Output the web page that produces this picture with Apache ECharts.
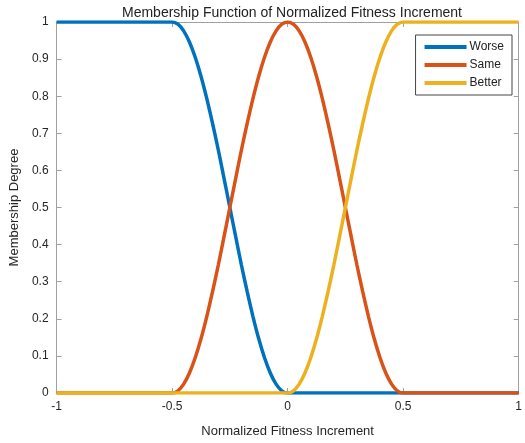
<!DOCTYPE html>
<html>
<head>
<meta charset="utf-8">
<script src="https://cdn.jsdelivr.net/npm/echarts@6/dist/echarts.min.js"></script>
<style>html,body{margin:0;padding:0;background:#fff;}#c{width:525px;height:443px;}</style>
</head>
<body>
<div id="c"></div>
<script>
var xValues = [-1, -0.5, -0.475, -0.45, -0.425, -0.4, -0.375, -0.35, -0.325, -0.3, -0.275, -0.25,
  -0.225, -0.2, -0.175, -0.15, -0.125, -0.1, -0.075, -0.05, -0.025, 0,
  0.025, 0.05, 0.075, 0.1, 0.125, 0.15, 0.175, 0.2, 0.225, 0.25,
  0.275, 0.3, 0.325, 0.35, 0.375, 0.4, 0.425, 0.45, 0.475, 0.5, 1];
var worse = [1, 1, 0.994, 0.976, 0.946, 0.905, 0.854, 0.794, 0.727, 0.655, 0.578, 0.5,
  0.422, 0.345, 0.273, 0.206, 0.146, 0.095, 0.054, 0.024, 0.006, 0,
  0, 0, 0, 0, 0, 0, 0, 0, 0, 0,
  0, 0, 0, 0, 0, 0, 0, 0, 0, 0, 0];
var same = [0, 0, 0.006, 0.024, 0.054, 0.095, 0.146, 0.206, 0.273, 0.345, 0.422, 0.5,
  0.578, 0.655, 0.727, 0.794, 0.854, 0.905, 0.946, 0.976, 0.994, 1,
  0.994, 0.976, 0.946, 0.905, 0.854, 0.794, 0.727, 0.655, 0.578, 0.5,
  0.422, 0.345, 0.273, 0.206, 0.146, 0.095, 0.054, 0.024, 0.006, 0, 0];
var better = [0, 0, 0, 0, 0, 0, 0, 0, 0, 0, 0, 0,
  0, 0, 0, 0, 0, 0, 0, 0, 0, 0,
  0.006, 0.024, 0.054, 0.095, 0.146, 0.206, 0.273, 0.345, 0.422, 0.5,
  0.578, 0.655, 0.727, 0.794, 0.854, 0.905, 0.946, 0.976, 0.994, 1, 1];
var seriesNames = ['Worse', 'Same', 'Better'];
var xTicks = [-1, -0.5, 0, 0.5, 1];
var titleText = 'Membership Function of Normalized Fitness Increment';
var xLabel = 'Normalized Fitness Increment';
var yLabel = 'Membership Degree';

function pairs(ys) { return xValues.map(function (x, i) { return [x, ys[i]]; }); }
var colors = ['#0072BD', '#D95319', '#EDB120'];
var fontFam = 'Liberation Sans, Arial, sans-serif';
var axisCol = '#a0a0a0';
var textCol = '#262626';

var chart = echarts.init(document.getElementById('c'), null, {renderer: 'canvas'});
var lineSeries = [worse, same, better].map(function (d, i) {
  return {
    name: seriesNames[i], type: 'line', data: pairs(d), showSymbol: false, symbol: 'none',
    smooth: 0.25,
    lineStyle: {width: 3.5, color: colors[i]}, itemStyle: {color: colors[i]},
    xAxisIndex: 0, yAxisIndex: 0, animation: false, z: 3 + i
  };
});
chart.setOption({
  animation: false,
  backgroundColor: '#fff',
  title: {text: titleText, left: 287, textAlign: 'center', top: 1,
    textStyle: {fontFamily: fontFam, fontSize: 14, fontWeight: 'normal', color: '#222'}},
  legend: {
    data: seriesNames, orient: 'vertical', right: 13, top: 35,
    backgroundColor: '#fff', borderColor: '#444', borderWidth: 1,
    padding: [6, 8, 6, 9], itemGap: 6, itemWidth: 42, itemHeight: 4, icon: 'rect',
    textStyle: {fontFamily: fontFam, fontSize: 12, color: '#222', padding: [0, 0, 0, -2]}
  },
  grid: {left: 53, right: 4, top: 22, bottom: 49, containLabel: false},
  xAxis: [{
    type: 'value', min: -1, max: 1, interval: 0.5, position: 'bottom',
    name: xLabel, nameLocation: 'middle', nameGap: 32,
    nameTextStyle: {fontFamily: fontFam, fontSize: 13, color: textCol},
    axisLine: {show: true, onZero: false, lineStyle: {color: axisCol, width: 1}},
    axisTick: {show: true, inside: true, length: 5, lineStyle: {color: axisCol}},
    axisLabel: {fontFamily: fontFam, fontSize: 12, color: textCol, margin: 8,
      formatter: function (v) { return xTicks.indexOf(v) >= 0 ? String(v) : ''; }},
    splitLine: {show: false}
  }, {
    type: 'value', min: -1, max: 1, interval: 0.5, position: 'top',
    axisLine: {show: true, onZero: false, lineStyle: {color: axisCol, width: 1}},
    axisTick: {show: true, inside: true, length: 5, lineStyle: {color: axisCol}},
    axisLabel: {show: false}, splitLine: {show: false}
  }],
  yAxis: [{
    type: 'value', min: 0, max: 1, interval: 0.1, position: 'left',
    name: yLabel, nameLocation: 'middle', nameGap: 31, nameRotate: 90,
    nameTextStyle: {fontFamily: fontFam, fontSize: 13, color: textCol},
    axisLine: {show: true, onZero: false, lineStyle: {color: axisCol, width: 1}},
    axisTick: {show: true, inside: true, length: 5, lineStyle: {color: axisCol}},
    axisLabel: {fontFamily: fontFam, fontSize: 12, color: textCol, margin: 8,
      formatter: function (v) { return String(Math.round(v * 10) / 10); }},
    splitLine: {show: false}
  }, {
    type: 'value', min: 0, max: 1, interval: 0.1, position: 'right',
    axisLine: {show: true, onZero: false, lineStyle: {color: axisCol, width: 1}},
    axisTick: {show: true, inside: true, length: 5, lineStyle: {color: axisCol}},
    axisLabel: {show: false}, splitLine: {show: false}
  }],
  series: lineSeries
});
</script>
</body>
</html>
